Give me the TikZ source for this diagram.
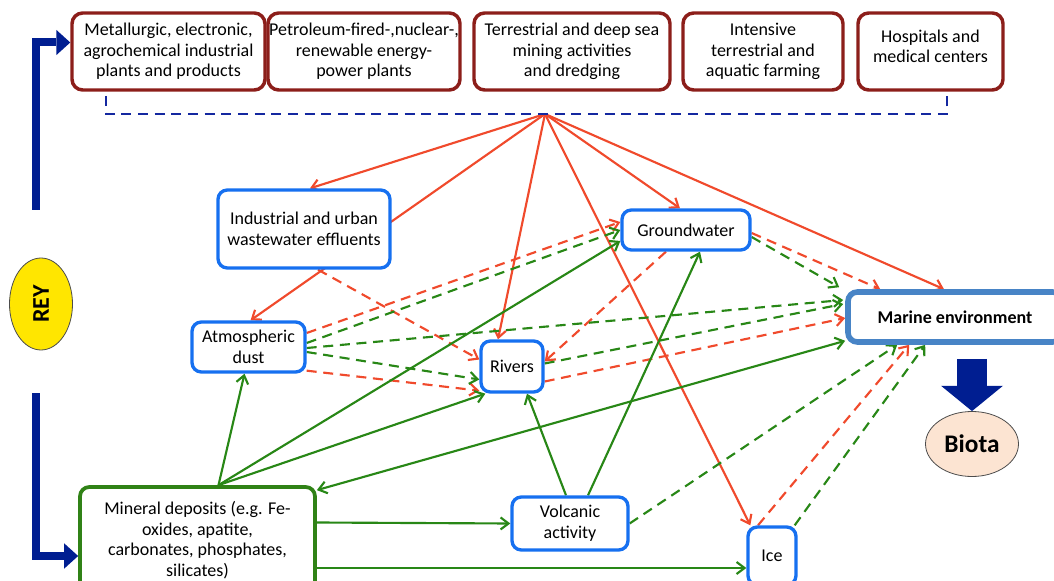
\documentclass[tikz,border=0pt]{standalone}
\usepackage{fontspec}
\setmainfont{Carlito}
\usetikzlibrary{arrows.meta,shapes.geometric,calc}
\definecolor{boxred}{RGB}{140,30,26}
\definecolor{boxblue}{RGB}{22,112,240}
\definecolor{marblue}{RGB}{72,132,198}
\definecolor{mingreen}{RGB}{48,130,22}
\definecolor{arrred}{RGB}{240,74,44}
\definecolor{arrgreen}{RGB}{40,135,22}
\definecolor{navy}{RGB}{0,30,145}
\definecolor{dashblue}{RGB}{20,40,160}
\definecolor{reyyellow}{RGB}{255,230,0}
\definecolor{peach}{RGB}{252,228,210}
\def\PX{*0.75pt}
\pgfdeclarelayer{bg}
\pgfsetlayers{bg,main}
\begin{document}
\begin{tikzpicture}[x=0.75pt,y=-0.75pt,
  txt/.style={align=center,font=\fontsize{13.5}{15.5}\selectfont,inner sep=0pt},
  srcbox/.style={txt,draw=boxred,line width=2.6pt,rounded corners=8pt,fill=white},
  envbox/.style={txt,draw=boxblue,line width=2.5pt,rounded corners=7pt,fill=white},
  tip/.style={-{Straight Barb[length=6pt,width=9pt]}},
  rs/.style={draw=arrred,line width=1.6pt,tip},
  rd/.style={rs,dash pattern=on 7.5pt off 5pt},
  gs/.style={draw=arrgreen,line width=1.6pt,tip},
  gd/.style={gs,dash pattern=on 7.5pt off 5pt},
  navyarrow/.style={draw=navy,line width=6pt,-{Triangle[length=10.5pt,width=19pt,line width=0pt]}}
]
\useasboundingbox (0,0) rectangle (1054,581);

% source boxes
\node[srcbox,minimum width=193\PX,minimum height=77\PX] (m1) at (168.5,51.5) {Metallurgic, electronic,\\agrochemical industrial\\plants and products};
\node[srcbox,minimum width=192\PX,minimum height=77\PX] (m2) at (364,51.5) {Petroleum-fired-,nuclear-,\\renewable energy-\\power plants};
\node[srcbox,minimum width=196\PX,minimum height=77\PX] (m3) at (572,51.5) {Terrestrial and deep sea\\mining activities\\and dredging};
\node[srcbox,minimum width=160\PX,minimum height=77\PX] (m4) at (763,51.5) {Intensive\\terrestrial and\\aquatic farming};
\node[srcbox,minimum width=145\PX,minimum height=77\PX,text depth=8pt] (m5) at (930.5,51.5) {Hospitals and\\medical centers};

% environment boxes
\node[envbox,minimum width=172\PX,minimum height=78\PX] (ind) at (304,229) {Industrial and urban\\wastewater effluents};
\node[envbox,minimum width=113\PX,minimum height=50\PX] (atm) at (248.5,347) {Atmospheric\\dust};
\node[envbox,minimum width=62\PX,minimum height=51\PX] (riv) at (512,366.5) {Rivers};
\node[envbox,minimum width=128\PX,minimum height=40\PX] (gw) at (686,230) {Groundwater};
\node[envbox,draw=marblue,line width=4.2pt,minimum width=214\PX,minimum height=50\PX,font=\fontsize{13.5}{15.5}\selectfont\bfseries] (mar) at (955,317) {Marine environment};
\node[envbox,minimum width=116\PX,minimum height=53\PX] (volc) at (570,523.5) {Volcanic\\activity};
\node[envbox,minimum width=48\PX,minimum height=58\PX] (ice) at (772,556) {Ice};
\node[envbox,draw=mingreen,line width=2.8pt,minimum width=235\PX,minimum height=106\PX] (min) at (197.5,540) {Mineral deposits (e.g. Fe-\\oxides, apatite,\\carbonates, phosphates,\\silicates)};

% REY and Biota
\node[ellipse,draw=black!70,line width=0.6pt,fill=reyyellow,rotate=90,minimum width=92\PX,minimum height=63\PX,inner sep=0pt,font=\fontsize{18}{20}\selectfont\bfseries] (rey) at (41,304) {REY};
\node[ellipse,draw=black!70,line width=0.6pt,fill=peach,minimum width=93\PX,minimum height=65\PX,inner sep=0pt,font=\fontsize{19}{21}\selectfont\bfseries] (bio) at (972,444) {Biota};

% hub and dashed bracket
\coordinate (hub) at (545,114);
\coordinate (bl) at (106,96);
\coordinate (br) at (947,96);
\draw[dashblue,line width=1.6pt,dash pattern=on 7.5pt off 5pt] (bl) |- (hub) -| (br);

% REY bracket arrows
\coordinate (reytop) at (36,210);
\coordinate (reybot) at (36,393);
\draw[navyarrow] (reytop) |- ([shift={(0,-9)}]m1.west);
\draw[navyarrow] (reybot) |- ([shift={(0,16)}]min.west);

% big arrow to biota
\draw[draw=navy,line width=22.5pt,-{Triangle[length=19pt,width=46.5pt,line width=0pt]}] ($(mar.south -| bio.north)+(0,14)$) -- (bio.north);

\begin{pgfonlayer}{bg}
% red solid from hub
\draw[rs] (hub) -- ([shift={(6,0)}]ind.north);
\draw[rs] (hub) -- ([shift={(2,0)}]atm.north);
\draw[rs] (hub) -- ([shift={(-14,0)}]riv.north);
\draw[rs] (hub) -- ([shift={(-6,0)}]gw.north);
\draw[rs] (hub) -- ([shift={(-11,0)}]mar.north);
\draw[rs] (hub) -- ([shift={(4,0)}]ice.north west);
% red dashed
\draw[rd] ([shift={(14,0)}]ind.south) -- ([shift={(0,-7)}]riv.west);
\draw[rd] ([shift={(0,-14)}]atm.east) -- ([shift={(0,-8)}]gw.west);
\draw[rd] ([shift={(0,-3)}]atm.south east) -- ([shift={(0,-3)}]riv.south west);
\draw[rd] ([shift={(0,3)}]gw.east) -- ([shift={(35,0)}]mar.north west);
\draw[rd] ([shift={(-20,0)}]gw.south) -- ([shift={(0,-5)}]riv.east);
\draw[rd] ([shift={(0,15)}]riv.east) -- ([shift={(0,1)}]mar.west);
\draw[rd] ([shift={(-14,0)}]ice.north) -- ([shift={(64,0)}]mar.south west);
% green dashed
\draw[gd] ([shift={(0,-4)}]atm.east) -- (gw.west);
\draw[gd] ([shift={(0,1)}]atm.east) -- ([shift={(-2,-17)}]mar.west);
\draw[gd] ([shift={(0,5)}]atm.east) -- ([shift={(0,13)}]riv.west);
\draw[gd] ([shift={(0,7)}]gw.east) -- ([shift={(-6,-2)}]mar.north west);
\draw[gd] ([shift={(0,-3)}]riv.east) -- ([shift={(-2,-13)}]mar.west);
\draw[gd] (volc.east) -- ([shift={(52,0)}]mar.south west);
\draw[gd] ([shift={(-3,0)}]ice.north east) -- ([shift={(80,0)}]mar.south west);
% green solid
\draw[gs] ([shift={(21,0)}]min.north) -- ([shift={(-4,0)}]atm.south);
\draw[gs] ([shift={(21,0)}]min.north) -- ([shift={(0,11)}]gw.west);
\draw[gs] ([shift={(21,0)}]min.north) -- ([shift={(6,0)}]riv.south west);
\draw[gs,{Straight Barb[length=6pt,width=9pt]}-{Straight Barb[length=6pt,width=9pt]}] ([shift={(0,5)}]min.north east) -- ([shift={(0,-4)}]mar.south west);
\draw[gs] ([shift={(0,-17.5)}]min.east) -- (volc.west);
\draw[gs] ([shift={(0,28)}]min.east) -- ([shift={(0,12)}]ice.west);
\draw[gs] ([shift={(-4,0)}]volc.north) -- ([shift={(15,0)}]riv.south);
\draw[gs] ([shift={(18,0)}]volc.north) -- ([shift={(14,0)}]gw.south);
\end{pgfonlayer}
\end{tikzpicture}
\end{document}
